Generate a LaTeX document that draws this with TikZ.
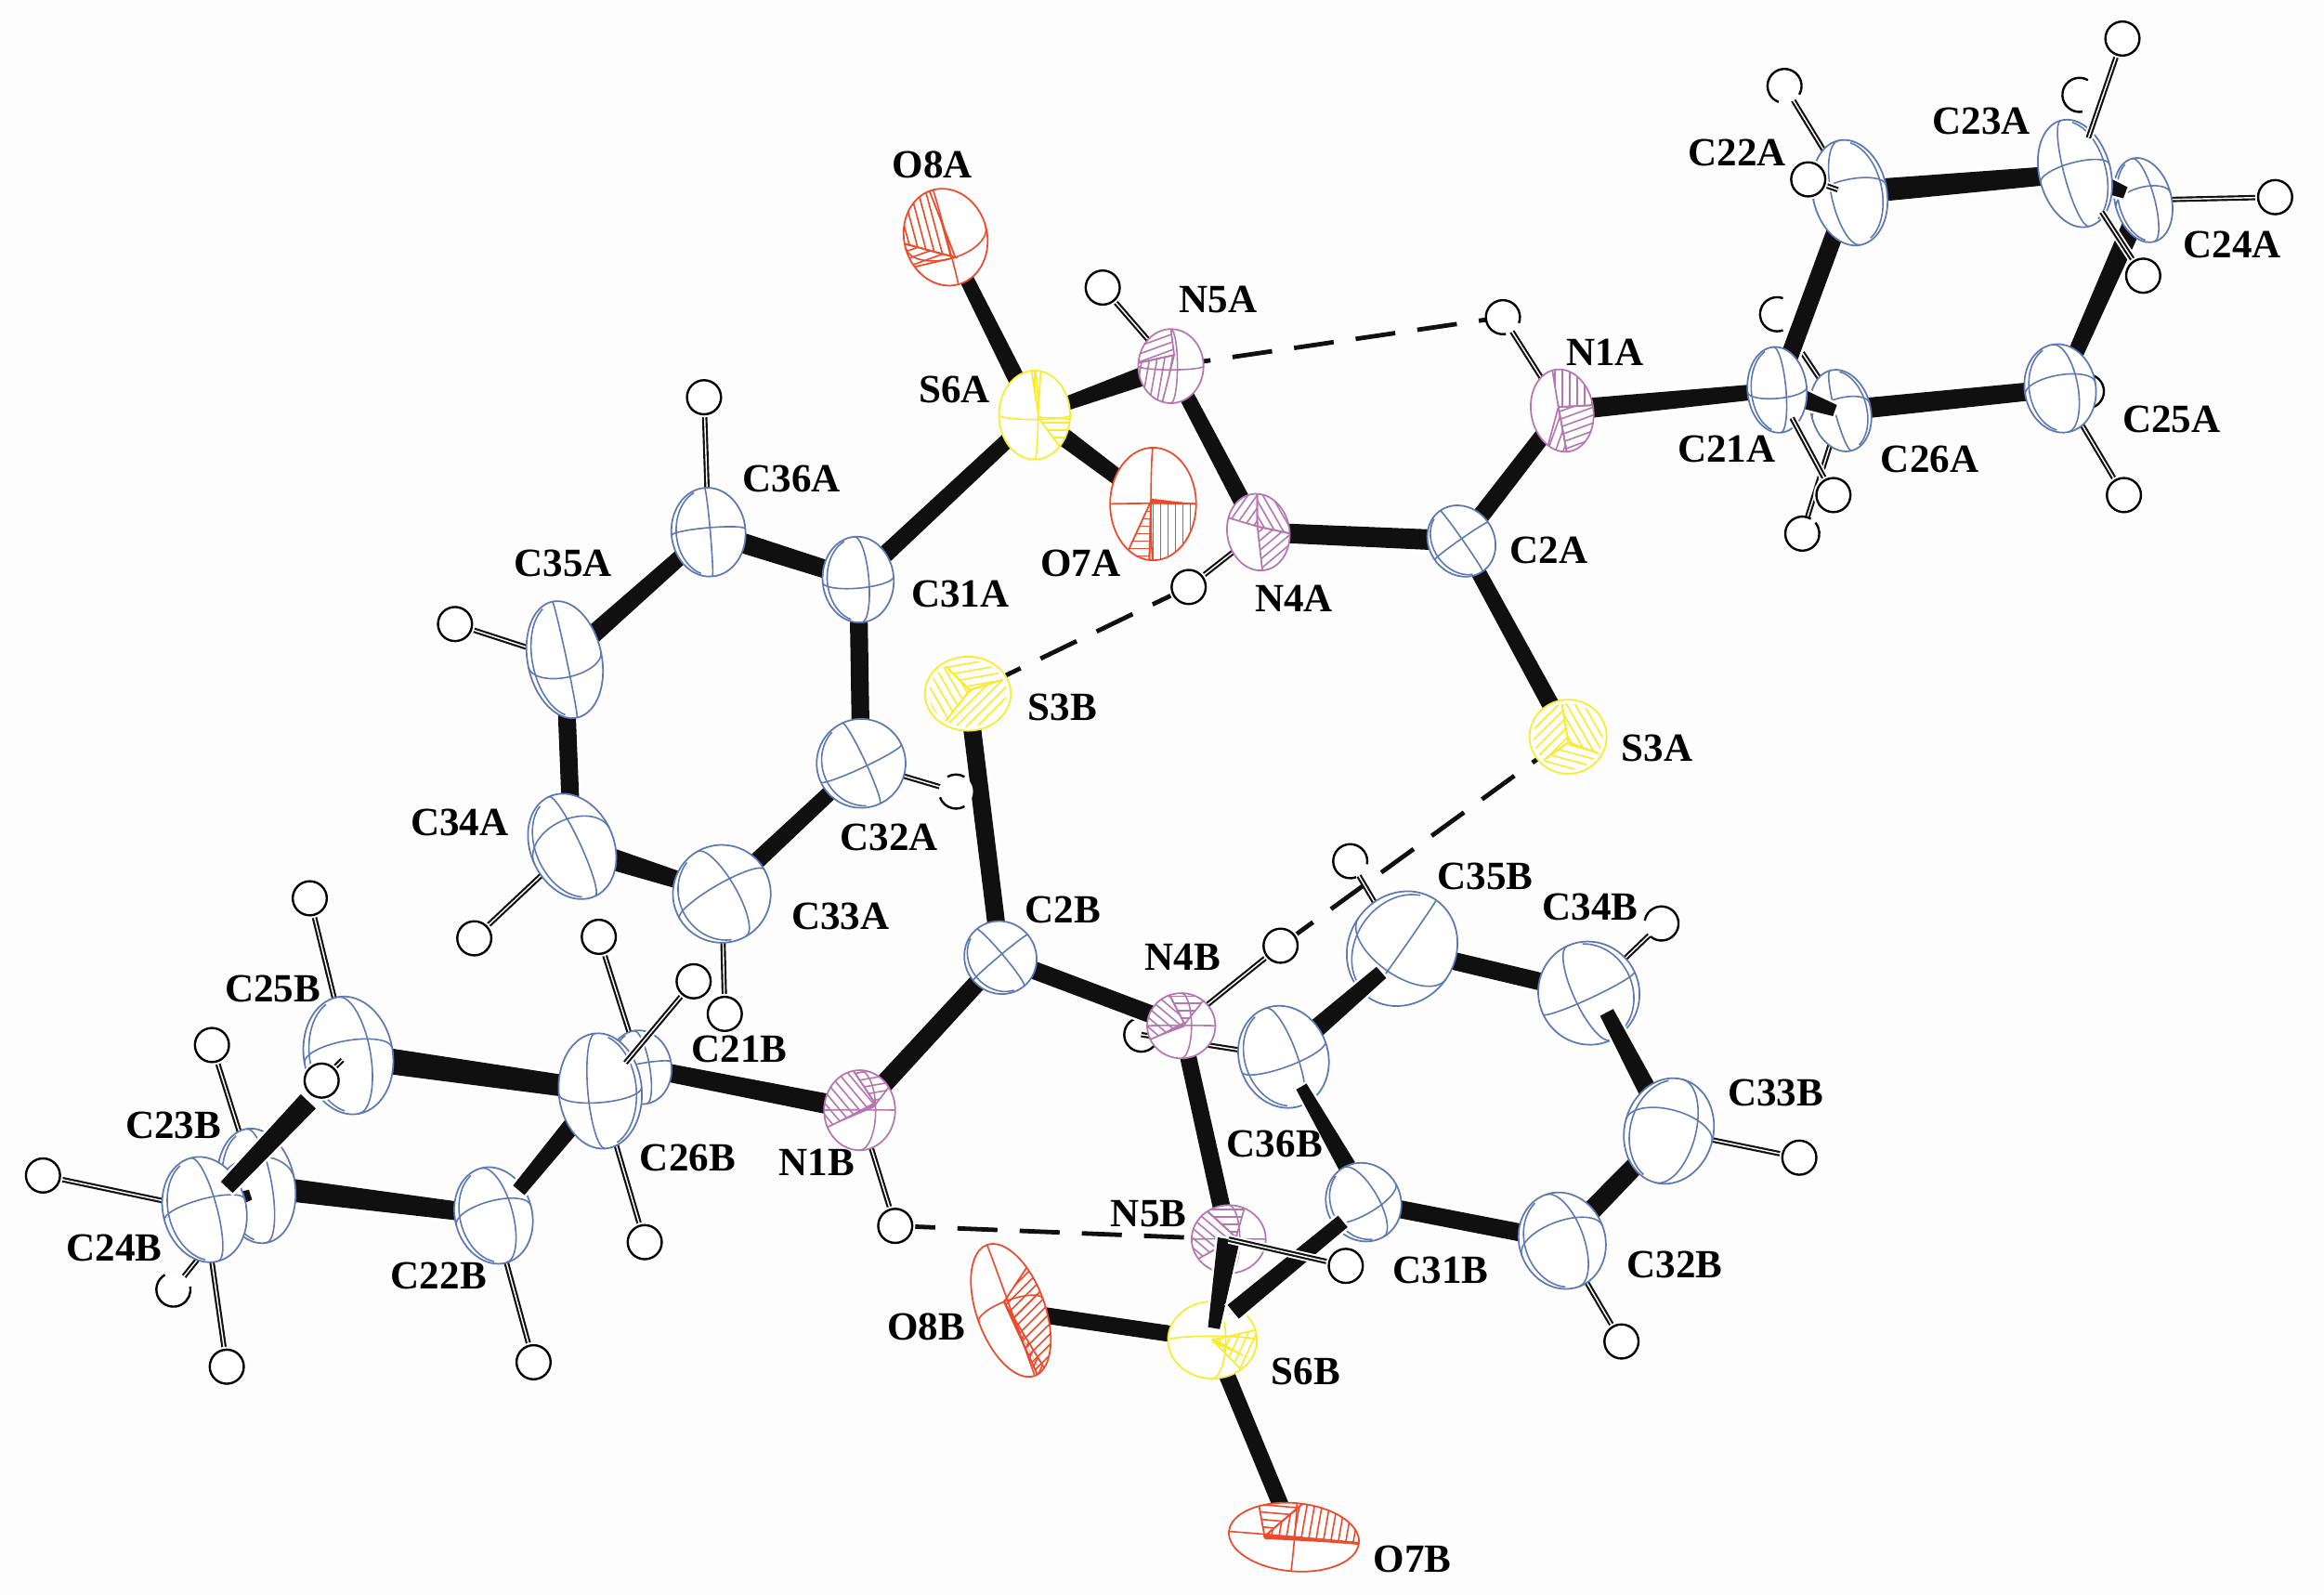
\documentclass[tikz,border=0pt]{standalone}
\usepackage{fontspec}
\setmainfont{Liberation Serif}
\usetikzlibrary{shapes.geometric,calc}
\pgfdeclarelayer{LB}\pgfdeclarelayer{L0}\pgfdeclarelayer{L1}\pgfdeclarelayer{L2}\pgfdeclarelayer{L3}
\pgfdeclarelayer{L4}\pgfdeclarelayer{L5}\pgfdeclarelayer{L6}\pgfdeclarelayer{L7}
\pgfsetlayers{LB,L0,L1,L2,L3,L4,L5,L6,L7,main}
\definecolor{cblue}{HTML}{5F78B4}
\definecolor{cpurp}{HTML}{B478AE}
\definecolor{cyell}{HTML}{F8EC2C}
\definecolor{cred}{HTML}{EC4A2A}
\definecolor{cbond}{HTML}{111011}
\tikzset{
  atomshape/.style={shape=ellipse,fill=white,line width=1.1pt,inner sep=0pt,outer sep=0pt},
  hatom/.style={shape=circle,draw=black,fill=white,line width=1.5pt,inner sep=0pt,minimum size=23pt,
    preaction={draw=white,line width=4pt}},
  hopenatom/.style={shape=circle,fill=white,inner sep=0pt,minimum size=23pt},
  lbl/.style={font=\fontsize{27}{30}\selectfont\bfseries,inner sep=0pt,text=black},
  hdash/.style={draw=cbond,line width=3pt,dash pattern=on 27pt off 15pt},
  bondfill/.style={fill=cbond,preaction={draw=white,line width=3.2pt}},
}
% atom: name x y rx ry rot colour
\newcommand\atomnode[7]{%
  \expandafter\xdef\csname arx#1\endcsname{#4}%
  \expandafter\xdef\csname ary#1\endcsname{#5}%
  \expandafter\xdef\csname arot#1\endcsname{#6}%
  \expandafter\xdef\csname acol#1\endcsname{#7}%
  \node[atomshape,draw=#7,minimum width={2*#4pt},minimum height={2*#5pt},rotate=#6] (#1) at (#2,#3) {};}
% ornament arcs: name e m
\newcommand\orn[3]{%
  \edef\Rx{\csname arx#1\endcsname}\edef\Ry{\csname ary#1\endcsname}%
  \edef\Rt{\csname arot#1\endcsname}\edef\Cl{\csname acol#1\endcsname}%
  \pgfmathsetmacro\Ey{max(abs(#2),0.01)*\Ry}\pgfmathsetmacro\Ee{ifthenelse(#2>=0,0,360)}%
  \pgfmathsetmacro\Mx{max(abs(#3),0.01)*\Rx}\pgfmathsetmacro\Me{ifthenelse(#3>=0,-90,270)}%
  \begin{scope}[shift={(#1.center)},rotate=\Rt]
    \draw[\Cl,line width=1pt] (-\Rx pt,0pt) arc[start angle=180,end angle=\Ee,x radius=\Rx pt,y radius=\Ey pt];
    \draw[\Cl,line width=1pt] (0pt,\Ry pt) arc[start angle=90,end angle=\Me,x radius=\Mx pt,y radius=\Ry pt];
  \end{scope}}
% near-outline arc, on the side away from the meridian
\newcommand\dbl[2]{%
  \edef\Rx{\csname arx#1\endcsname}\edef\Ry{\csname ary#1\endcsname}%
  \edef\Rt{\csname arot#1\endcsname}\edef\Cl{\csname acol#1\endcsname}%
  \pgfmathsetmacro\Mx{.87*\Rx}\pgfmathsetmacro\Ms{ifthenelse(#2>=0,180,0)}%
  \pgfmathsetmacro\Ma{\Ms-70}\pgfmathsetmacro\Mb{\Ms+70}%
  \pgfmathsetmacro\Px{\Mx*cos(\Ma)}\pgfmathsetmacro\Py{.97*\Ry*sin(\Ma)}\pgfmathsetmacro\Qy{.97*\Ry}%
  \begin{scope}[shift={(#1.center)},rotate=\Rt]
    \draw[\Cl,line width=1pt] (\Px pt,\Py pt) arc[start angle=\Ma,end angle=\Mb,x radius=\Mx pt,y radius=\Qy pt];
  \end{scope}}
\newcommand\catom[9]{\atomnode{#1}{#2}{#3}{#4}{#5}{#6}{#7}\orn{#1}{#8}{#9}\dbl{#1}{#9}}
% hatched sector: name hx hy a1 a2 hatchangle (sector scale in \Sf)
\def\Sf{1}
\newcommand\hatchsec[6]{%
  \edef\Rx{\csname arx#1\endcsname}\edef\Ry{\csname ary#1\endcsname}%
  \edef\Rt{\csname arot#1\endcsname}\edef\Cl{\csname acol#1\endcsname}%
  \pgfmathsetmacro\Hx{#2*\Rx}\pgfmathsetmacro\Hy{#3*\Ry}%
  \pgfmathsetmacro\Ax{\Sf*\Rx*cos(#4)}\pgfmathsetmacro\Ay{\Sf*\Ry*sin(#4)}%
  \pgfmathsetmacro\Bx{\Sf*\Rx*cos(#5)}\pgfmathsetmacro\By{\Sf*\Ry*sin(#5)}%
  \pgfmathsetmacro\Srx{\Sf*\Rx}\pgfmathsetmacro\Sry{\Sf*\Ry}%
  \begin{scope}[shift={(#1.center)},rotate=\Rt]
    \begin{scope}
      \clip (\Hx pt,\Hy pt) -- (\Ax pt,\Ay pt) arc[start angle=#4,end angle=#5,x radius=\Srx pt,y radius=\Sry pt] -- cycle;
      \begin{scope}[rotate=#6]
        \foreach \dd in {-60,-55,...,60} {\draw[\Cl,line width=1pt] (-70pt,\dd pt) -- (70pt,\dd pt);}
      \end{scope}
    \end{scope}
    \draw[\Cl,line width=1.1pt] (\Ax pt,\Ay pt) -- (\Hx pt,\Hy pt) -- (\Bx pt,\By pt);
  \end{scope}}
% thick band from hub to the outline: name hx hy angle
\newcommand\hband[4]{%
  \edef\Rx{\csname arx#1\endcsname}\edef\Ry{\csname ary#1\endcsname}%
  \edef\Rt{\csname arot#1\endcsname}\edef\Cl{\csname acol#1\endcsname}%
  \pgfmathsetmacro\Hx{#2*\Rx}\pgfmathsetmacro\Hy{#3*\Ry}%
  \pgfmathsetmacro\Ax{\Rx*cos(#4)}\pgfmathsetmacro\Ay{\Ry*sin(#4)}%
  \begin{scope}[shift={(#1.center)},rotate=\Rt]
    \fill[\Cl] (\Hx pt,\Hy pt+1.8pt) -- (\Ax pt,\Ay pt) -- (\Hx pt,\Hy pt-1.8pt) -- cycle;
  \end{scope}}
\newcommand\bond[4]{%
  \path[bondfill] ($(#1.center)!#3pt!90:(#2.center)$) -- ($(#2.center)!#4pt!-90:(#1.center)$)
    -- ($(#2.center)!#4pt!90:(#1.center)$) -- ($(#1.center)!#3pt!-90:(#2.center)$) -- cycle;}
\newcommand\hb[2]{%
  \draw[white,line width=6pt] (#1.center) -- (#2.center);
  \draw[cbond,line width=3.6pt] (#1.center) -- (#2.center);
  \draw[white,line width=.9pt] (#1.center) -- (#2.center);}
\newcommand\hnode[3]{\node[hatom] (#1) at (#2,#3) {};}
\newcommand\hopen[5]{\node[hopenatom] (#1) at (#2,#3) {};
  \draw[black,line width=1.5pt] (#1.center) ++(#4:11.5pt) arc[start angle=#4,end angle=#5,radius=11.5pt];}
\newcommand\harc[3]{\draw[black,line width=1.5pt] (#1.center) ++(#2:11.5pt) arc[start angle=#2,end angle=#3,radius=11.5pt];}
\newcommand\lab[3]{\node[lbl] (l#1) at (#2,#3) {#1};}
\begin{document}
\begin{tikzpicture}[x=1pt,y=-1pt]
\begin{pgfonlayer}{LB}
\fill[white!99.4!black] (0,0) rectangle (1568,1076);
\useasboundingbox (0,0) rectangle (1568,1076);
\end{pgfonlayer}

% ---------- free ends of bonds drawn in front of an atom
\coordinate (fA) at (1409,93);
\coordinate (fB) at (1418,143);
\coordinate (fC) at (1209,282);
\coordinate (fD) at (1434,130);
\coordinate (fE) at (1238,277);
\coordinate (fF) at (1216,238);
\coordinate (fG) at (1240,128);
\coordinate (fH) at (169,806);
\coordinate (fI) at (153,801);
\coordinate (fJ) at (208,743);
\coordinate (fK) at (350,803);
\coordinate (fL) at (422,717);
\coordinate (fM) at (231,715);
\coordinate (fN) at (819,896);
\coordinate (fO) at (832,885);
\coordinate (fP) at (906,824);
\coordinate (fQ) at (932,656);
\coordinate (fR) at (878,733);
\coordinate (fS) at (1084,683);
\coordinate (fT) at (909,787);

% ---------- atoms hidden behind others
\begin{pgfonlayer}{L0}
\hnode{Hx}{1408}{264}
\hnode{H36B}{770}{698}
\end{pgfonlayer}

\begin{pgfonlayer}{L1}
\catom{C24A}{1446}{135}{19}{29}{15}{cblue}{.3}{.4}
\catom{C26A}{1242}{277}{20}{28}{15}{cblue}{.3}{-.2}
\catom{C23B}{173}{800}{26}{39}{10}{cblue}{.5}{.4}
\catom{C22B}{333}{820}{26}{33}{15}{cblue}{.3}{.5}
\catom{C35B}{946}{640}{36}{40}{-35}{cblue}{-.45}{.02}
\catom{C34B}{1072}{670}{34}{35}{25}{cblue}{-.1}{-.3}
\catom{C21B}{432}{720}{21}{25}{10}{cblue}{.1}{.3}
\end{pgfonlayer}

\begin{pgfonlayer}{L3}
% ring A
\catom{C22A}{1248}{130}{25}{36}{12}{cblue}{.25}{-.5}
\catom{C23A}{1400}{117}{24}{37}{15}{cblue}{.2}{-.3}
\catom{C21A}{1199}{263}{20}{29}{5}{cblue}{-.2}{.3}
\catom{C25A}{1390}{262}{24}{30}{10}{cblue}{.3}{.5}
\catom{C2A}{986}{365}{22}{25}{35}{cblue}{.05}{.05}
% phenyl A
\catom{C36A}{478}{359}{25}{30}{5}{cblue}{.1}{.05}
\catom{C31A}{579}{391}{24}{29}{5}{cblue}{-.2}{.3}
\catom{C35A}{381}{445}{25}{40}{12}{cblue}{-.3}{.05}
\catom{C34A}{386}{571}{28}{37}{25}{cblue}{.5}{.2}
\catom{C33A}{487}{603}{33}{33}{30}{cblue}{.2}{.3}
\catom{C32A}{581}{515}{30}{30}{25}{cblue}{-.1}{.1}
\catom{C2B}{675}{646}{24}{25}{40}{cblue}{.05}{.1}
% phenyl B
\catom{C32B}{1054}{837}{29}{33}{20}{cblue}{.4}{.5}
\catom{C33B}{1126}{763}{30}{36}{-15}{cblue}{.4}{.6}
\catom{C36B}{866}{713}{30}{35}{20}{cblue}{-.2}{.3}
% ring B
\catom{C25B}{235}{712}{30}{40}{10}{cblue}{.25}{.5}
\catom{C26B}{405}{736}{28}{39}{5}{cblue}{-.2}{-.3}
\catom{C24B}{138}{816}{28}{36}{15}{cblue}{.2}{.3}
% hetero atoms
\atomnode{O8A}{638}{160}{28}{33}{15}{cred}
\hatchsec{O8A}{.1}{-.45}{95}{175}{90}\hatchsec{O8A}{.1}{-.45}{175}{205}{5}\orn{O8A}{-.45}{.02}
\atomnode{O7A}{778}{340}{29}{38}{0}{cred}\orn{O7A}{.0}{-.05}
\hatchsec{O7A}{-.05}{.05}{0}{-95}{90}\hatchsec{O7A}{-.05}{.05}{-95}{-125}{0}\hband{O7A}{-.05}{.05}{0}
\atomnode{S6A}{698}{280}{24}{30}{0}{cyell}\orn{S6A}{-.1}{.1}
\hatchsec{S6A}{.1}{.05}{95}{80}{90}\hatchsec{S6A}{.1}{-.05}{-5}{-45}{0}
\atomnode{N5A}{790}{247}{22}{25}{0}{cpurp}\orn{N5A}{-.1}{.2}
\hatchsec{N5A}{.1}{.3}{90}{175}{20}\hatchsec{N5A}{.1}{.3}{175}{255}{80}
\atomnode{N4A}{849}{359}{21}{26}{10}{cpurp}
\hatchsec{N4A}{0}{.15}{80}{-10}{-70}\hatchsec{N4A}{0}{.15}{-10}{-95}{30}\hatchsec{N4A}{0}{.15}{150}{80}{45}
\atomnode{N1A}{1054}{277}{21}{28}{10}{cpurp}
\hatchsec{N1A}{-.1}{.1}{95}{0}{80}\hatchsec{N1A}{-.1}{.1}{0}{-95}{10}\hatchsec{N1A}{-.1}{.1}{-95}{-130}{60}
\def\Sf{.9}
\atomnode{S3B}{653}{468}{29}{25}{0}{cyell}
\hatchsec{S3B}{.05}{.1}{125}{25}{10}\hatchsec{S3B}{.05}{.1}{25}{-125}{45}\hatchsec{S3B}{.05}{.1}{235}{125}{-60}
\atomnode{S3A}{1058}{497}{26}{25}{0}{cyell}
\hatchsec{S3A}{0}{-.15}{100}{-30}{-60}\hatchsec{S3A}{0}{-.15}{-30}{-135}{-15}\hatchsec{S3A}{0}{-.15}{225}{100}{45}
\def\Sf{1}
\atomnode{N4B}{797}{692}{23}{22}{0}{cpurp}\orn{N4B}{.0}{.3}
\hatchsec{N4B}{.1}{.05}{110}{50}{0}\hatchsec{N4B}{.1}{.05}{110}{205}{-40}\hband{N4B}{.1}{.05}{205}
\atomnode{N1B}{580}{749}{24}{27}{0}{cpurp}\orn{N1B}{.0}{.45}
\hatchsec{N1B}{.45}{.15}{100}{35}{10}\hatchsec{N1B}{.45}{.15}{100}{205}{-50}\hband{N1B}{.45}{.15}{205}
\atomnode{S6B}{818}{904}{30}{26}{0}{cyell}\orn{S6B}{.1}{.3}
\hatchsec{S6B}{0}{0}{-50}{15}{65}\hband{S6B}{0}{0}{-30}
\atomnode{O8B}{682}{884}{23}{47}{20}{cred}\orn{O8B}{.15}{.0}
\hatchsec{O8B}{-.1}{.15}{30}{-85}{25}\hatchsec{O8B}{-.1}{.15}{-85}{-70}{45}\hband{O8B}{-.1}{.15}{-78}
\atomnode{O7B}{873}{1037}{44}{23}{-5}{cred}\orn{O7B}{.0}{.0}
\hatchsec{O7B}{-.45}{-.05}{85}{125}{0}\hatchsec{O7B}{-.45}{-.05}{85}{-2}{85}\hband{O7B}{-.45}{-.05}{-2}
\end{pgfonlayer}

\begin{pgfonlayer}{L5}
\catom{C31B}{920}{811}{25}{27}{30}{cblue}{-.3}{.4}
\atomnode{N5B}{829}{836}{25}{23}{0}{cpurp}\orn{N5B}{.0}{.3}
\hatchsec{N5B}{.2}{.05}{65}{125}{0}\hatchsec{N5B}{.2}{.05}{125}{215}{-40}\hband{N5B}{.2}{.05}{215}
\end{pgfonlayer}

% ---------- hydrogen atoms in front
\begin{pgfonlayer}{L7}
\hnode{H5A}{744}{194}
\hopen{H1A}{1014}{214}{-20}{280}
\hnode{H4A}{802}{396}
\hopen{H22a}{1204}{58}{-30}{250}
\hnode{H22b}{1220}{121}
\hnode{H23a}{1432}{26}
\hopen{H23b}{1403}{64}{60}{280}
\hnode{H24a}{1535}{133}
\hnode{H24b}{1446}{186}
\hnode{H25a}{1433}{334}
\hnode{H21a}{1237}{334}
\hopen{H26a}{1216}{360}{-300}{40}
\hopen{H21b}{1199}{212}{70}{290}
\hnode{H36A}{475}{268}
\hnode{H35A}{307}{421}
\hnode{H34A}{320}{633}
\hnode{H33A}{489}{684}
\hopen{H32A}{645}{534}{200}{300}\harc{H32A}{60}{120}
\hnode{H25B}{209}{606}
\hnode{H26Ba}{404}{632}
\hnode{H26Bb}{468}{662}
\hnode{H26Bc}{435}{838}
\hnode{H23Ba}{143}{705}
\hnode{H25Bb}{217}{729}
\hnode{H24Ba}{29}{793}
\hopen{H24Bb}{117}{870}{120}{370}
\hnode{H24Bc}{153}{922}
\hnode{H22B}{360}{919}
\hnode{N1H}{604}{827}
\hnode{N4H}{864}{638}
\hnode{N5H}{908}{854}
\hopen{H35B}{911}{581}{-10}{290}
\hopen{H34B}{1121}{623}{-130}{170}
\hnode{H33B}{1214}{781}
\hnode{H32B}{1094}{905}
\end{pgfonlayer}

% ---------- bonds under the atoms
\begin{pgfonlayer}{L0}
\hb{Hx}{C25A}
\hb{H36B}{C36B}
\hb{H5A}{N5A}\hb{H1A}{N1A}\hb{H4A}{N4A}
\hb{H22a}{C22A}\hb{H24a}{C24A}\hb{H25a}{C25A}
\hb{fF}{C26A}\hb{H26a}{C26A}
\hb{H36A}{C36A}\hb{H35A}{C35A}\hb{H34A}{C34A}\hb{H33A}{C33A}\hb{H32A}{C32A}
\hb{H25B}{C25B}\hb{H26Ba}{C21B}\hb{H26Bc}{C26B}\hb{H23Ba}{C23B}\hb{H24Ba}{C24B}\hb{H24Bc}{C24B}
\hb{H24Bb}{C23B}\hb{H22B}{C22B}
\hb{N1H}{N1B}\hb{N4H}{N4B}
\hb{H35B}{C35B}\hb{H34B}{C34B}\hb{H33B}{C33B}\hb{H32B}{C32B}
\draw[hdash] (N5A.center) -- (H1A.center);
\draw[hdash] (H4A.center) -- (S3B.center);
\draw[hdash] (N4H.center) -- (S3A.center);
\draw[hdash] (N1H.center) -- (N5B.center);
\bond{O8A}{S6A}{4.5}{6}
\bond{S6A}{N5A}{4}{7}
\bond{S6A}{O7A}{6.5}{5}
\bond{S6A}{C31A}{5}{6}
\bond{N5A}{N4A}{5}{6}
\bond{N4A}{C2A}{6.5}{7}
\bond{C2A}{N1A}{6}{5.5}
\bond{C2A}{S3A}{5}{6}
\bond{N1A}{C21A}{7}{5}
\bond{C21A}{C22A}{6}{6}
\bond{C22A}{C23A}{8}{6}
\bond{C24A}{C25A}{7}{5}
\bond{C25A}{C26A}{6}{7}
\bond{C31A}{C36A}{6}{7}
\bond{C36A}{C35A}{5}{6.5}
\bond{C35A}{C34A}{6}{6}
\bond{C34A}{C33A}{8}{5}
\bond{C33A}{C32A}{6}{5}
\bond{C32A}{C31A}{6}{6}
\bond{S3B}{C2B}{6}{6}
\bond{C2B}{N1B}{6}{6.5}
\bond{C2B}{N4B}{6}{6}
\bond{N4B}{N5B}{5.5}{6}
\bond{S6B}{O8B}{5.5}{5.5}
\bond{S6B}{O7B}{5.5}{5.5}
\bond{C31B}{C32B}{6}{6}
\bond{C32B}{C33B}{7}{6}
\bond{C34B}{C35B}{6}{6}
\bond{N1B}{C21B}{7}{6}
\bond{C25B}{C26B}{9}{7}
\bond{C22B}{C23B}{6}{8}
\end{pgfonlayer}

% ---------- bonds over the back atoms
\begin{pgfonlayer}{L2}
\bond{C23A}{fD}{8}{4}
\bond{C21A}{fE}{8}{4}
\bond{C24B}{fH}{7}{3.5}
\bond{C26B}{fK}{6.5}{5}
\bond{fQ}{C36B}{5}{7}
\bond{fS}{C33B}{5}{7}
\end{pgfonlayer}

\begin{pgfonlayer}{L4}
\bond{fR}{fT}{4}{6}
\end{pgfonlayer}

% ---------- bonds in front of everything but the hydrogens
\begin{pgfonlayer}{L6}
\bond{fI}{fJ}{5.5}{7}
\bond{N5B}{fN}{7.5}{4}
\bond{fO}{fP}{6}{5}
\hb{N5H}{N5B}
\hb{H23a}{fA}
\hb{H24b}{fB}
\hb{H21a}{fC}
\hb{H22b}{fG}
\hb{H26Bb}{fL}
\hb{H25Bb}{fM}
\end{pgfonlayer}

% ---------- labels
\begin{pgfonlayer}{L7}
\lab{O8A}{629}{111}
\lab{S6A}{644}{263}
\lab{N5A}{822}{202}
\lab{N1A}{1083}{238}
\lab{C22A}{1172}{103}
\lab{C23A}{1337}{82}
\lab{C24A}{1506}{165}
\lab{C25A}{1465}{283}
\lab{C26A}{1302}{310}
\lab{C21A}{1165}{303}
\lab{C2A}{1045}{371}
\lab{N4A}{873}{404}
\lab{O7A}{729}{380}
\lab{C31A}{648}{401}
\lab{C36A}{534}{323}
\lab{C35A}{380}{380}
\lab{C34A}{310}{555}
\lab{C33A}{567}{618}
\lab{C32A}{600}{565}
\lab{S3B}{717}{477}
\lab{S3A}{1118}{505}
\lab{C2B}{717}{614}
\lab{N4B}{798}{646}
\lab{C35B}{1002}{591}
\lab{C34B}{1073}{612}
\lab{C33B}{1198}{737}
\lab{C32B}{1130}{853}
\lab{C31B}{972}{857}
\lab{C36B}{860}{772}
\lab{C21B}{499}{708}
\lab{C26B}{464}{781}
\lab{C25B}{184}{667}
\lab{C23B}{117}{759}
\lab{C24B}{77}{842}
\lab{C22B}{296}{861}
\lab{N1B}{551}{784}
\lab{N5B}{775}{819}
\lab{O8B}{625}{895}
\lab{S6B}{881}{925}
\lab{O7B}{953}{1052}
\end{pgfonlayer}
\end{tikzpicture}
\end{document}
